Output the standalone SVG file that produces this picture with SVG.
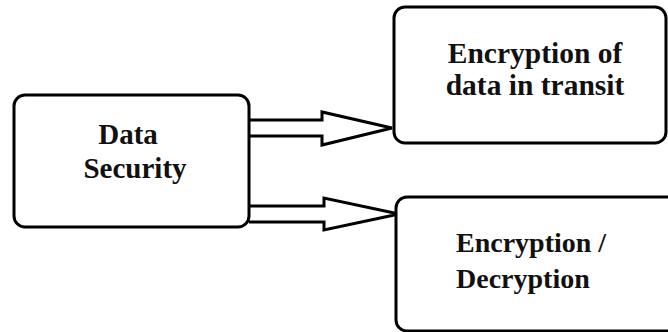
<svg xmlns="http://www.w3.org/2000/svg" width="668" height="332" viewBox="0 0 668 332">
  <style>
    .box { fill: #ffffff; stroke: #000000; stroke-width: 3; }
    .arrow { fill: #ffffff; stroke: #000000; stroke-width: 3; stroke-linejoin: miter; }
    .label { font-family: "Liberation Serif", "Times New Roman", serif; font-weight: bold; font-size: 28px; fill: #111111; }
  </style>
  <rect width="668" height="332" fill="#ffffff"/>

  <g id="connectors">
    <!-- block arrow to the upper box -->
    <polyline class="arrow" points="249,120 322,120 322,112 392,128 322,145 322,136 249,136"/>
    <!-- block arrow to the lower box -->
    <polyline class="arrow" points="249,206 324,206 324,198 399,214 324,230 324,222 249,222"/>
  </g>

  <g id="data-security">
    <rect class="box" x="14" y="95" width="235" height="132" rx="11" ry="11"/>
    <text class="label" x="128" y="144" text-anchor="middle" style="font-size:29px">Data</text>
    <text class="label" x="135" y="178" text-anchor="middle" style="font-size:29px">Security</text>
  </g>

  <g id="encryption-in-transit">
    <rect class="box" x="394" y="7" width="272" height="136" rx="11" ry="11"/>
    <text class="label" x="535" y="63" text-anchor="middle" style="font-size:29.5px">Encryption of</text>
    <text class="label" x="535" y="95" text-anchor="middle" style="font-size:29.5px">data in transit</text>
  </g>

  <g id="encryption-decryption">
    <rect class="box" x="396" y="197" width="290" height="134" rx="11" ry="11"/>
    <text class="label" x="456" y="252">Encryption /</text>
    <text class="label" x="456" y="288">Decryption</text>
  </g>
</svg>
